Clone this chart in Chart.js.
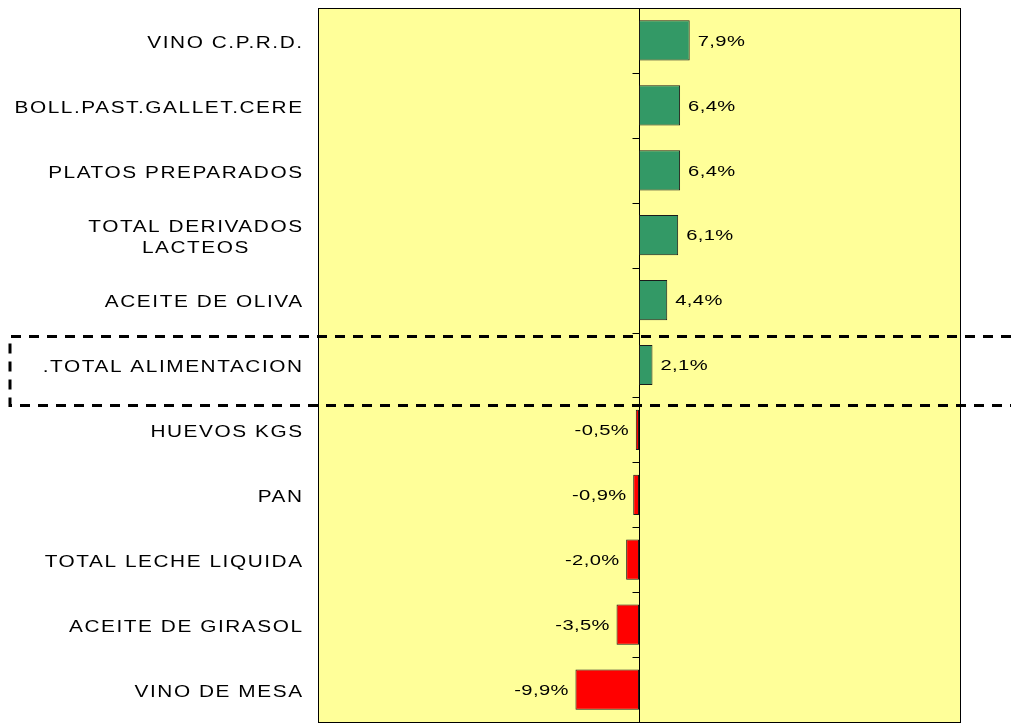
<!DOCTYPE html>
<html>
<head>
<meta charset="utf-8">
<script src="https://cdn.jsdelivr.net/npm/chart.js@4/dist/chart.umd.min.js"></script>
<style>
  body { margin: 0; background: #ffffff; }
  #wrap { width: 1011px; height: 724px; }
</style>
</head>
<body>
<div id="wrap"><canvas id="chart" width="1011" height="724"></canvas></div>
<script>
const categories = [
  ['VINO C.P.R.D.'],
  ['BOLL.PAST.GALLET.CERE'],
  ['PLATOS PREPARADOS'],
  ['TOTAL DERIVADOS', 'LACTEOS'],
  ['ACEITE DE OLIVA'],
  ['.TOTAL ALIMENTACION'],
  ['HUEVOS KGS'],
  ['PAN'],
  ['TOTAL LECHE LIQUIDA'],
  ['ACEITE DE GIRASOL'],
  ['VINO DE MESA']
];
const values = [7.9, 6.4, 6.4, 6.1, 4.4, 2.1, -0.5, -0.9, -2.0, -3.5, -9.9];
const highlightIndex = 5;
const axisMin = -50;
const axisMax = 50;

const catFont = '16px "Liberation Sans", Arial, sans-serif';
const valFont = '15.5px "Liberation Sans", Arial, sans-serif';
const stretch = 1.3;

function fmt(v) {
  return v.toFixed(1).replace('.', ',') + '%';
}

// text in the original is wide and loosely spaced
function stretchedText(ctx, txt, x, y, align, spacing) {
  ctx.save();
  ctx.translate(x, y);
  ctx.scale(stretch, 1);
  ctx.letterSpacing = spacing + 'px';
  ctx.textAlign = align;
  let dx = 0;
  if (align === 'right') dx = spacing;
  if (align === 'center') dx = spacing / 2;
  ctx.fillText(txt, dx, 0);
  ctx.restore();
}

function textWidth(ctx, txt, spacing) {
  ctx.save();
  ctx.letterSpacing = spacing + 'px';
  const w = (ctx.measureText(txt).width - spacing) * stretch;
  ctx.restore();
  return w;
}

const chartDecor = {
  id: 'chartDecor',
  beforeDraw(chart) {
    const { ctx, chartArea: a } = chart;
    ctx.save();
    ctx.fillStyle = '#FFFF99';
    ctx.fillRect(a.left, a.top, a.right - a.left, a.bottom - a.top);
    ctx.restore();
  },
  beforeDatasetsDraw(chart) {
    const { ctx, chartArea: a } = chart;
    const x0 = Math.round(chart.scales.x.getPixelForValue(0)) + 0.5;
    const yScale = chart.scales.y;
    const step = yScale.getPixelForValue(1) - yScale.getPixelForValue(0);
    ctx.save();
    ctx.strokeStyle = '#000000';
    ctx.lineWidth = 1;
    ctx.beginPath();
    ctx.moveTo(x0, a.top);
    ctx.lineTo(x0, a.bottom);
    // small ticks between categories
    for (let i = 0; i < categories.length - 1; i++) {
      const y = Math.round(yScale.getPixelForValue(i) + step / 2) + 0.5;
      ctx.moveTo(x0 - 7, y);
      ctx.lineTo(x0, y);
    }
    ctx.stroke();
    ctx.restore();
  },
  afterDatasetsDraw(chart) {
    const { ctx, chartArea: a } = chart;
    const xScale = chart.scales.x;
    const yScale = chart.scales.y;
    ctx.save();
    ctx.strokeStyle = '#000000';
    ctx.lineWidth = 1;
    ctx.strokeRect(Math.round(a.left) + 0.5, Math.round(a.top) + 0.5,
      Math.round(a.right - a.left), Math.round(a.bottom - a.top));

    ctx.fillStyle = '#000000';
    ctx.textBaseline = 'middle';

    const catSpacing = 1.2;
    const valSpacing = 0.3;

    // category labels
    ctx.font = catFont;
    categories.forEach((lines, i) => {
      const yc = yScale.getPixelForValue(i) + 3;
      const right = 302;
      if (lines.length === 1) {
        stretchedText(ctx, lines[0], right, yc, 'right', catSpacing);
      } else {
        const w = Math.max(...lines.map(l => textWidth(ctx, l, catSpacing)));
        const cx = right - w / 2;
        const lh = 21;
        lines.forEach((l, j) => {
          stretchedText(ctx, l, cx, yc + (j - (lines.length - 1) / 2) * lh, 'center', catSpacing);
        });
      }
    });

    // value labels
    ctx.font = valFont;
    values.forEach((v, i) => {
      const yc = yScale.getPixelForValue(i) + 1;
      const xe = xScale.getPixelForValue(v);
      if (v >= 0) {
        stretchedText(ctx, fmt(v), xe + 8, yc, 'left', valSpacing);
      } else {
        stretchedText(ctx, fmt(v), xe - 7, yc, 'right', valSpacing);
      }
    });

    // dashed box around the total row
    const yc = yScale.getPixelForValue(highlightIndex);
    const top = Math.round(yc - 29) + 0.5;
    const bottom = Math.round(yc + 40) + 0.5;
    ctx.lineWidth = 3;
    ctx.setLineDash([10, 8]);
    ctx.beginPath();
    ctx.moveTo(chart.width, top);
    ctx.lineTo(10, top);
    ctx.lineTo(10, bottom);
    ctx.lineTo(chart.width, bottom);
    ctx.stroke();
    ctx.restore();
  }
};

new Chart(document.getElementById('chart'), {
  type: 'bar',
  data: {
    labels: categories,
    datasets: [{
      data: values,
      backgroundColor: values.map(v => v >= 0 ? '#339966' : '#FF0000'),
      borderColor: '#1a1a1a',
      borderWidth: 1,
      borderSkipped: false,
      barPercentage: 0.62,
      categoryPercentage: 1
    }]
  },
  options: {
    indexAxis: 'y',
    responsive: false,
    animation: false,
    layout: { padding: { left: 318, right: 51, top: 8, bottom: 2 } },
    scales: {
      x: { min: axisMin, max: axisMax, display: false },
      y: { display: false }
    },
    plugins: {
      legend: { display: false },
      tooltip: { enabled: false }
    }
  },
  plugins: [chartDecor]
});
</script>
</body>
</html>
